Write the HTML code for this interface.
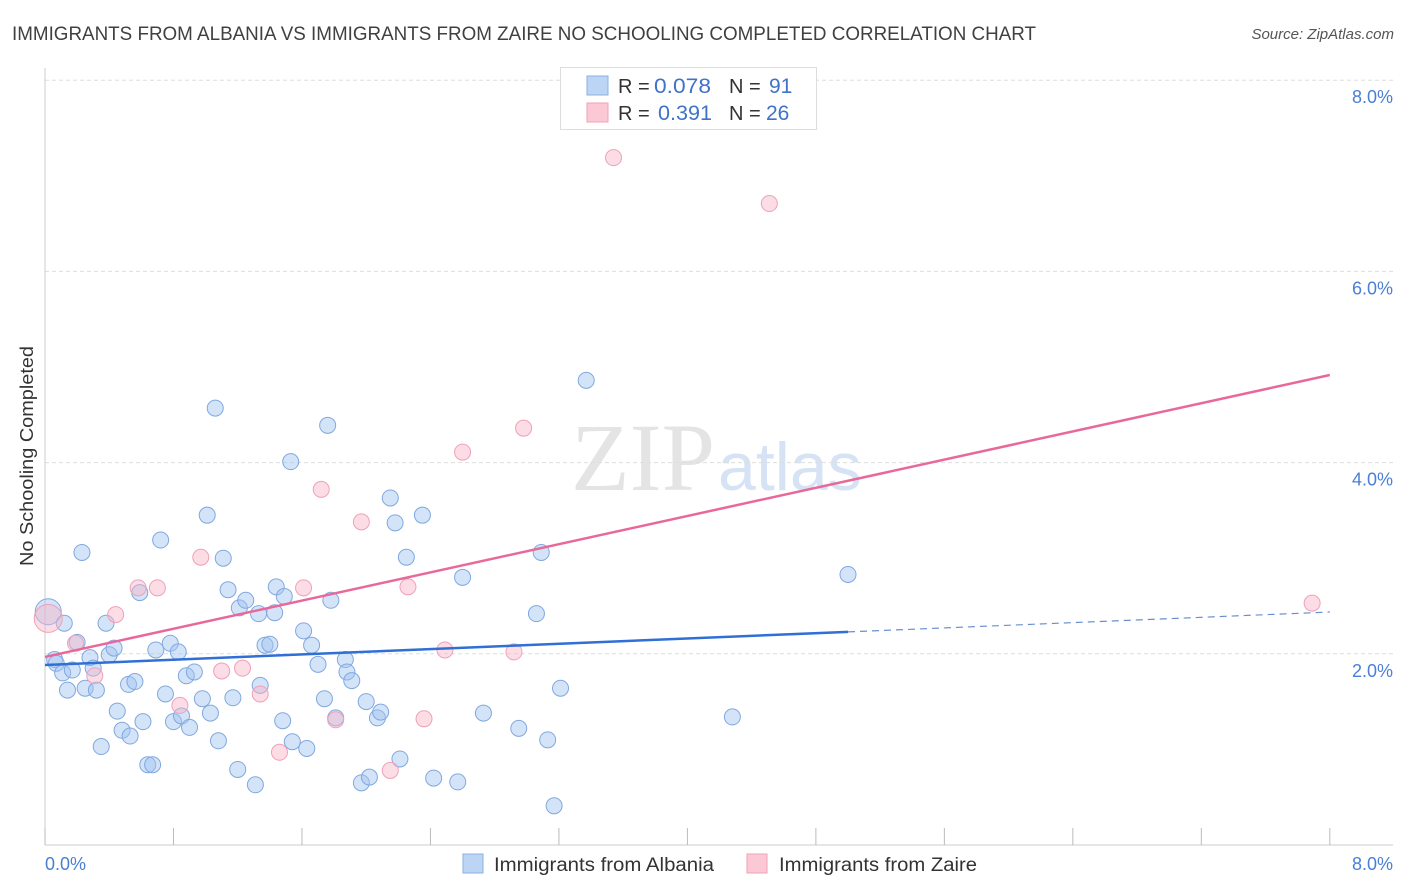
<!DOCTYPE html>
<html><head><meta charset="utf-8"><style>
body{margin:0;background:#fff;font-family:"Liberation Sans",sans-serif;}
svg{display:block}
</style></head><body>
<svg id="chart" width="1406" height="892">
<text x="12" y="40" font-size="19" fill="#404040" textLength="1024" lengthAdjust="spacingAndGlyphs">IMMIGRANTS FROM ALBANIA VS IMMIGRANTS FROM ZAIRE NO SCHOOLING COMPLETED CORRELATION CHART</text>
<text x="1394" y="39" font-size="15" fill="#555" font-style="italic" text-anchor="end">Source: ZipAtlas.com</text>
<text x="715" y="490" font-size="96" fill="#e4e4e4" font-family="Liberation Serif,serif" text-anchor="end">ZIP</text>
<text x="718" y="490" font-size="68" fill="#d6e3f5">atlas</text>
<g id="grid"></g><g id="axes"></g><g id="pts"></g><g id="trend"></g>
<text x="33" y="456" font-size="18" fill="#333" text-anchor="middle" textLength="220" lengthAdjust="spacingAndGlyphs" transform="rotate(-90 33 456)">No Schooling Completed</text>
<text x="45" y="870" font-size="18" fill="#4a7fd4">0.0%</text>
<text x="1393" y="870" font-size="18" fill="#4a7fd4" text-anchor="end">8.0%</text>
<g>
<rect x="560.5" y="67.5" width="256" height="62" fill="#fff" stroke="#ddd"/>
<rect x="587" y="76" width="21" height="19" fill="#bcd5f5" stroke="#8ab0e4"/>
<rect x="587" y="103" width="21" height="19" fill="#fcc8d6" stroke="#f0a0b8"/>
<text x="618" y="93" font-size="20" fill="#333">R = </text><text x="654" y="93" font-size="21" fill="#3f73c8" textLength="57" lengthAdjust="spacingAndGlyphs">0.078</text>
<text x="729" y="93" font-size="20" fill="#333">N = </text><text x="769" y="93" font-size="21" fill="#3f73c8">91</text>
<text x="618" y="120" font-size="20" fill="#333">R = </text><text x="658" y="120" font-size="21" fill="#3f73c8" textLength="54" lengthAdjust="spacingAndGlyphs">0.391</text>
<text x="729" y="120" font-size="20" fill="#333">N = </text><text x="766" y="120" font-size="21" fill="#3f73c8">26</text>
</g>
<g><rect x="463" y="854" width="20" height="19" fill="#bcd5f5" stroke="#8ab0e4"/><text x="494" y="871" font-size="19" fill="#333" textLength="220" lengthAdjust="spacingAndGlyphs">Immigrants from Albania</text></g>
<g><rect x="747" y="854" width="20" height="19" fill="#fcc8d6" stroke="#f0a0b8"/><text x="779" y="871" font-size="19" fill="#333" textLength="198" lengthAdjust="spacingAndGlyphs">Immigrants from Zaire</text></g>
</svg>
<script>
const yTicks=[2,4,6,8];
const xTicks=[0,0.8,1.6,2.4,3.2,4.0,4.8,5.6,6.4,7.2,8.0];
const albaniaX=[0.02,0.06,0.07,0.11,0.12,0.14,0.17,0.20,0.23,0.25,0.28,0.30,0.32,0.35,0.38,0.40,0.43,0.45,0.48,0.53,0.52,0.56,0.59,0.61,0.64,0.67,0.69,0.72,0.75,0.78,0.80,0.83,0.85,0.88,0.90,0.93,0.98,1.01,1.03,1.06,1.08,1.11,1.14,1.17,1.20,1.21,1.25,1.31,1.33,1.34,1.37,1.40,1.43,1.44,1.48,1.49,1.53,1.54,1.61,1.63,1.66,1.70,1.74,1.76,1.78,1.81,1.87,1.88,1.91,1.97,2.00,2.02,2.07,2.09,2.15,2.18,2.21,2.25,2.35,2.42,2.57,2.60,2.73,2.95,3.06,3.09,3.13,3.17,3.21,3.37,4.28,5.00];
const albaniaY=[2.44,1.94,1.90,1.80,2.32,1.62,1.83,2.12,3.06,1.64,1.96,1.85,1.62,1.03,2.32,1.99,2.06,1.40,1.20,1.14,1.68,1.71,2.64,1.29,0.84,0.84,2.04,3.19,1.58,2.11,1.29,2.02,1.35,1.77,1.23,1.81,1.53,3.45,1.38,4.57,1.09,3.00,2.67,1.54,0.79,2.48,2.56,0.63,2.42,1.67,2.09,2.10,2.43,2.70,1.30,2.60,4.01,1.08,2.24,1.01,2.09,1.89,1.53,4.39,2.56,1.33,1.94,1.81,1.72,0.65,1.50,0.71,1.33,1.39,3.63,3.37,0.90,3.01,3.45,0.70,0.66,2.80,1.38,1.22,2.42,3.06,1.10,0.41,1.64,4.86,1.34,2.83];
const zaireX=[0.02,0.19,0.31,0.44,0.58,0.70,0.84,0.97,1.10,1.23,1.34,1.46,1.61,1.72,1.81,1.97,2.15,2.26,2.36,2.49,2.60,2.92,2.98,3.54,4.51,7.89];
const zaireY=[2.37,2.11,1.77,2.41,2.69,2.69,1.46,3.01,1.82,1.85,1.58,0.97,2.69,3.72,1.31,3.38,0.78,2.70,1.32,2.04,4.11,2.02,4.36,7.19,6.71,2.53];
const albaniaTrend=[1.883,2.437]; const albaniaSolidEnd=5.0;
const zaireTrend=[1.967,4.916];
const NS='http://www.w3.org/2000/svg';
const sx=v=>45+v*160.6, sy=v=>845-v*95.6;
function mk(t,a,p){const e=document.createElementNS(NS,t);for(const k in a)e.setAttribute(k,a[k]);document.getElementById(p).appendChild(e);return e;}
yTicks.forEach(t=>{
 const l=mk('line',{x1:45,x2:1393,y1:sy(t),y2:sy(t),stroke:'#ddd','stroke-dasharray':'4,3'},'grid');
 
 
 const tx=mk('text',{x:1393,y:sy(t)+23,'font-size':18,fill:'#4a7fd4','text-anchor':'end'},'grid');
 tx.textContent=t.toFixed(1)+'%';
 
 
});
mk('line',{x1:45,x2:1393,y1:845,y2:845,stroke:'#ccc'},'axes');
mk('line',{x1:45,x2:45,y1:68,y2:845,stroke:'#ccc'},'axes');
xTicks.forEach(t=>{const l=mk('line',{x1:sx(t),x2:sx(t),y1:828,y2:845,stroke:'#bbb'},'axes');
 
 });
albaniaX.forEach((x,i)=>{const c=mk('circle',{cx:sx(x),cy:sy(albaniaY[i]),r:i==0?13:8,fill:'rgba(160,195,240,0.45)',stroke:'#80a8e0','stroke-width':1},'pts');
 
 });
zaireX.forEach((x,i)=>{const c=mk('circle',{cx:sx(x),cy:sy(zaireY[i]),r:i==0?14:8,fill:'rgba(248,180,200,0.45)',stroke:'#f0a0b8','stroke-width':1},'pts');
 
 });
const by=x=>albaniaTrend[0]+(albaniaTrend[1]-albaniaTrend[0])*x/8;
let l=mk('line',{x1:sx(0),y1:sy(by(0)),x2:sx(albaniaSolidEnd),y2:sy(by(albaniaSolidEnd)),stroke:'#2f6fd6','stroke-width':2.5},'trend');


l=mk('line',{x1:sx(albaniaSolidEnd),y1:sy(by(albaniaSolidEnd)),x2:sx(8),y2:sy(by(8)),stroke:'#6a90cc','stroke-width':1.2,'stroke-dasharray':'7,5'},'trend');


l=mk('line',{x1:sx(0),y1:sy(zaireTrend[0]),x2:sx(8),y2:sy(zaireTrend[1]),stroke:'#e8689a','stroke-width':2.5},'trend');


</script>
</body></html>
